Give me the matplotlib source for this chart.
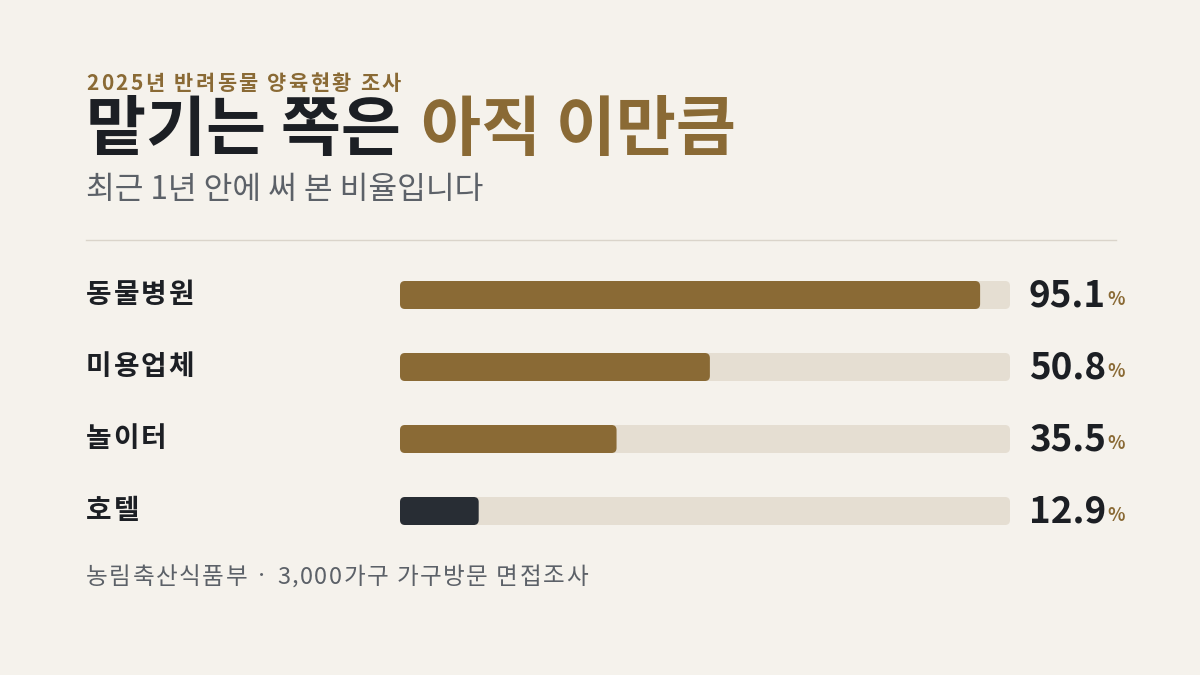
import matplotlib
matplotlib.use("Agg")
import matplotlib.pyplot as plt
from matplotlib.patches import FancyBboxPatch
from matplotlib import transforms

plt.rcParams['font.family'] = ['Noto Sans CJK KR', 'DejaVu Sans']

# ---------- data ----------
categories = ["동물병원", "미용업체", "놀이터", "호텔"]
values = [95.1, 50.8, 35.5, 12.9]
highlight = "호텔"

kicker = "2025년 반려동물 양육현황 조사"
title_a = "맡기는 쪽은"
title_b = "아직 이만큼"
subtitle = "최근 1년 안에 써 본 비율입니다"
source = "농림축산식품부 · 3,000가구 가구방문 면접조사"

# ---------- style ----------
BG = "#F5F2EC"
TRACK = "#E5DED2"
BROWN = "#8A6A35"
DARK = "#282D34"
INK = "#1C1F24"
GRAY = "#5C6168"
W, H = 1200, 675

fig = plt.figure(figsize=(W / 100, H / 100), dpi=100, facecolor=BG)
renderer = fig.canvas.get_renderer()


def fy(py):
    # pixel from top -> figure fraction
    return 1 - py / H


def text_w(s, **kw):
    t = fig.text(0, 0, s, **kw)
    w = t.get_window_extent(renderer).width
    t.remove()
    return w


def spaced_text(x, y, s, track, transform=None, **kw):
    # letter-spaced text, x in pixels, y in transform coords
    if transform is None:
        transform = fig.transFigure
        y = fy(y)
    tr = transforms.blended_transform_factory(fig.transFigure, transform)
    ref = text_w("x", **kw)
    for i, ch in enumerate(s):
        if ch == " ":
            continue
        off = (text_w(s[:i] + "x", **kw) - ref) if i else 0
        fig.text((x + off + i * track) / W, y, ch, transform=tr, **kw)


# header
spaced_text(86, 84, kicker, 2.4, color=BROWN, fontsize=15, fontweight="bold",
            va="center", ha="left")
t1 = fig.text(86 / W, fy(130), title_a, color=INK, fontsize=47,
              fontweight="bold", va="center", ha="left")
bb = t1.get_window_extent(renderer)
fig.text((bb.x1 + 20) / W, fy(130), title_b, color=BROWN, fontsize=47,
         fontweight="bold", va="center", ha="left")
fig.text(86 / W, fy(190), subtitle, color=GRAY, fontsize=22.5,
         va="center", ha="left")

# separator
fig.add_artist(plt.Line2D([86 / W, 1116 / W], [fy(240), fy(240)],
                          color="#DAD4CA", lw=1.0, transform=fig.transFigure))

# ---------- bars ----------
ax = fig.add_axes([400 / W, fy(547), 610 / W, 288 / H])
ax.set_xlim(0, 100)
ax.set_ylim(len(categories) - 0.5, -0.5)
ax.axis("off")

bar_h = 28 / 72
aspect = (1 / 72) / (100 / 610)
r = 5 * 100 / 610

val_tr = transforms.blended_transform_factory(fig.transFigure, ax.transData)
for i, (cat, v) in enumerate(zip(categories, values)):
    y0 = i - bar_h / 2
    ax.add_patch(FancyBboxPatch((r, y0 + r * aspect), 100 - 2 * r, bar_h - 2 * r * aspect,
                                boxstyle=f"round,pad={r}", mutation_aspect=aspect,
                                fc=TRACK, ec="none"))
    col = DARK if cat == highlight else BROWN
    ax.add_patch(FancyBboxPatch((r, y0 + r * aspect), v - 2 * r, bar_h - 2 * r * aspect,
                                boxstyle=f"round,pad={r}", mutation_aspect=aspect,
                                fc=col, ec="none"))
    spaced_text(86, i, cat, 2.0, transform=ax.transData, color=INK, fontsize=20,
                fontweight="bold", va="center", ha="left")
    vt = ax.text(1029 / W, i + 0.02, f"{v:.1f}", transform=val_tr, color=INK,
                 fontsize=26.5, fontweight="bold", va="center", ha="left")
    ax.annotate("%", xy=(1, 0.16), xycoords=vt, xytext=(1, 0), textcoords="offset pixels",
                color=BROWN, fontsize=13, fontweight="bold", va="bottom", ha="left")

# footer
spaced_text(86, 577, source, 1.5, color=GRAY, fontsize=17, va="center", ha="left")

fig.savefig("out.png", dpi=100, facecolor=BG)
